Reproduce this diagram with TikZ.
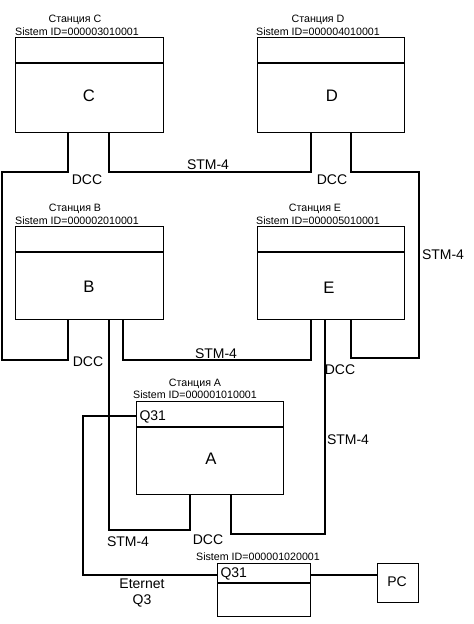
\documentclass[tikz,border=0pt]{standalone}
\usepackage{fontspec}
\setmainfont{Liberation Sans}
\begin{document}
\begin{tikzpicture}[x=0.75pt,y=-0.75pt,
  line width=0.8pt,
  box/.style={draw,rectangle,anchor=north west,inner sep=0pt},
  lbl/.style={anchor=base,inner sep=0pt,font=\fontsize{10.5}{12}\selectfont},
  st/.style={anchor=base,inner sep=0pt,font=\fontsize{8}{9}\selectfont},
  big/.style={anchor=base,inner sep=0pt,font=\fontsize{12.5}{14}\selectfont}]
\useasboundingbox (0,0) rectangle (474,624);
% boxes
\node[box,minimum width=148*0.75pt,minimum height=95*0.75pt] (C) at (15,37) {};
\node[box,minimum width=147*0.75pt,minimum height=95*0.75pt] (D) at (257,37) {};
\node[box,minimum width=148*0.75pt,minimum height=93*0.75pt] (B) at (15,226) {};
\node[box,minimum width=147*0.75pt,minimum height=93*0.75pt] (E) at (257,226) {};
\node[box,minimum width=147*0.75pt,minimum height=93*0.75pt] (A) at (136,401) {};
\node[box,minimum width=93*0.75pt,minimum height=53*0.75pt] (N) at (217,563) {};
\node[box,minimum width=41*0.75pt,minimum height=39*0.75pt] (PC) at (377,563) {};
% dividers
\foreach \b in {C,D,B,E,A}{
  \draw ([yshift=-26*0.75pt]\b.north west) -- ([yshift=-26*0.75pt]\b.north east);}
\draw ([yshift=-20*0.75pt]N.north west) -- ([yshift=-20*0.75pt]N.north east);
% box texts
\node[big] (tC) at (89,101.7) {C};
\node[big] (tD) at (332,101.7) {D};
\node[big] (tB) at (89,292.3) {B};
\node[big] (tE) at (329,293.3) {E};
\node[big] (tA) at (211,464.3) {A};
\node[lbl,anchor=base west] (qA) at (139,420.7) {Q31};
\node[lbl,anchor=base west] (qN) at (220,577.3) {Q31};
\node[lbl] (tPC) at (397,586.7) {PC};
% station labels
\node[st] (sC1) at (75,23) {Станция C};
\node[st] (sC2) at (77,35.5) {Sistem ID=000003010001};
\node[st] (sD1) at (318,23) {Станция D};
\node[st] (sD2) at (318,35.5) {Sistem ID=000004010001};
\node[st] (sB1) at (75,211) {Станция B};
\node[st] (sB2) at (77,224) {Sistem ID=000002010001};
\node[st] (sE1) at (315,211) {Станция E};
\node[st] (sE2) at (318,224) {Sistem ID=000005010001};
\node[st] (sA1) at (195,386.7) {Станция A};
\node[st] (sA2) at (195,398.5) {Sistem ID=000001010001};
\node[st] (sN2) at (258,560) {Sistem ID=000001020001};
% connectors
\draw (C.south -| 68,0) |- (2,172) |- (68,360) -- (B.south -| 68,0);
\draw (C.south -| 109,0) |- (311,172) -- (D.south -| 311,0);
\draw (D.south -| 351,0) |- (419,172) |- (351,358) -- (E.south -| 351,0);
\draw (B.south -| 123,0) |- (311,360) -- (E.south -| 311,0);
\draw (B.south -| 109,0) |- (190,530) -- (A.south -| 190,0);
\draw (E.south -| 325,0) |- (231,534) -- (A.south -| 231,0);
\draw (A.west |- 0,416) -| (83,575) -- (N.west |- 0,575);
\draw (N.east |- 0,575) -- (PC.west |- 0,575);
% connector labels
\node[lbl] (l1) at (208,170) {STM-4};
\node[lbl] (l2) at (87,184.3) {DCC};
\node[lbl] (l3) at (332,184.3) {DCC};
\node[lbl] (l4) at (443,259) {STM-4};
\node[lbl] (l5) at (88,366.7) {DCC};
\node[lbl] (l6) at (216,358.3) {STM-4};
\node[lbl] (l7) at (340,374) {DCC};
\node[lbl] (l8) at (348,444) {STM-4};
\node[lbl] (l9) at (128,546.7) {STM-4};
\node[lbl] (l10) at (208,544.3) {DCC};
\node[lbl] (l11) at (142,588.3) {Eternet};
\node[lbl] (l12) at (142,604.5) {Q3};
\end{tikzpicture}
\end{document}
